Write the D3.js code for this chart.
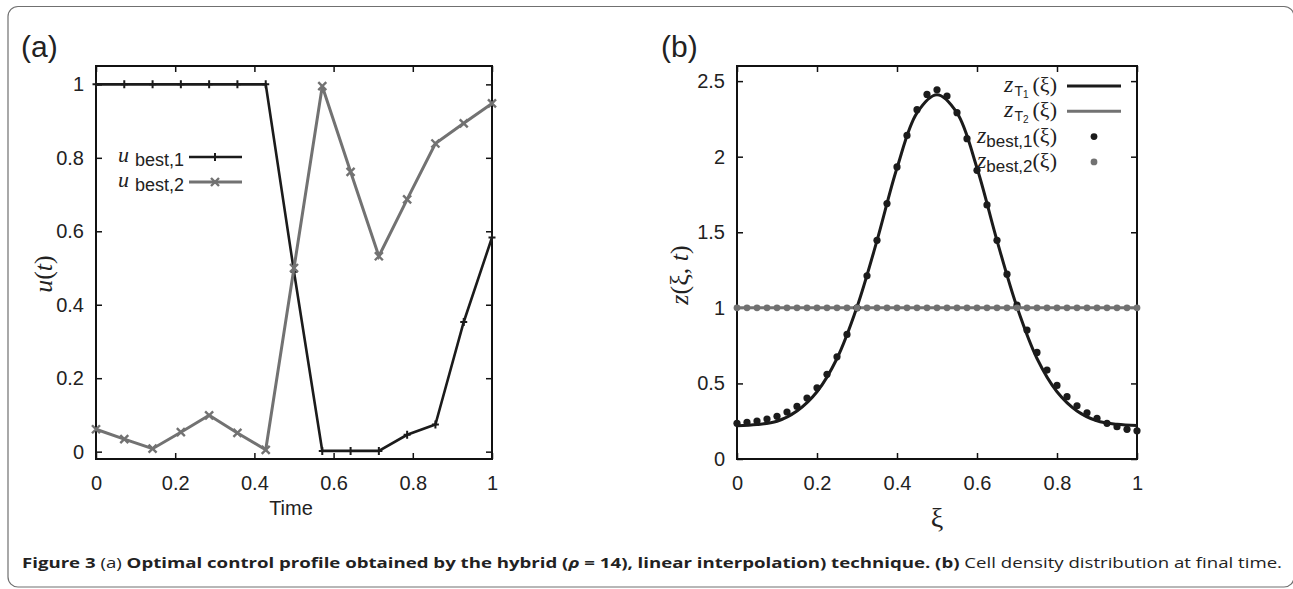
<!DOCTYPE html>
<html>
<head>
<meta charset="utf-8">
<title>Figure 3</title>
<script src="https://d3js.org/d3.v7.min.js"></script>
<style>
    body { margin: 0; background: #fff; }
    svg { display: block; }
    .sans { font-family: 'Liberation Sans', Arial, Helvetica, sans-serif; fill: #222; }
    .serif { font-family: 'Liberation Serif', 'DejaVu Serif', serif; fill: #222; }
</style>
</head>
<body>
<div id="chart"></div>
<script>
    // panel (a): control profiles
    const time = [0, 0.0714, 0.1429, 0.2143, 0.2857, 0.3571, 0.4286, 0.5, 0.5714, 0.6429, 0.7143, 0.7857, 0.8571, 0.9286, 1];
    const uBest1 = [1, 1, 1, 1, 1, 1, 1, 0.49, 0.002, 0.002, 0.002, 0.046, 0.074, 0.353, 0.583];
    const uBest2 = [0.061, 0.034, 0.008, 0.053, 0.099, 0.051, 0.005, 0.50, 0.995, 0.762, 0.532, 0.687, 0.839, 0.894, 0.948];
    const xTicksA = [0, 0.2, 0.4, 0.6, 0.8, 1];
    const yTicksA = [0, 0.2, 0.4, 0.6, 0.8, 1];

    // panel (b): cell density
    const xiDots = [0, 0.025, 0.05, 0.075, 0.1, 0.125, 0.15, 0.175, 0.2, 0.225, 0.25, 0.275, 0.3, 0.325, 0.35, 0.375, 0.4, 0.425, 0.45, 0.475,
        0.5, 0.525, 0.55, 0.575, 0.6, 0.625, 0.65, 0.675, 0.7, 0.725, 0.75, 0.775, 0.8, 0.825, 0.85, 0.875, 0.9, 0.925, 0.95, 0.975, 1];
    const zBest1 = [0.236, 0.242, 0.251, 0.264, 0.282, 0.311, 0.348, 0.403, 0.471, 0.560, 0.676, 0.824, 1.0, 1.212, 1.447, 1.690, 1.932, 2.141, 2.311, 2.412,
        2.443, 2.401, 2.291, 2.119, 1.910, 1.681, 1.447, 1.223, 1.018, 0.853, 0.705, 0.588, 0.487, 0.412, 0.352, 0.306, 0.269, 0.236, 0.214, 0.196, 0.187];
    const zBest2 = [1, 1, 1, 1, 1, 1, 1, 1, 1, 1, 1, 1, 1, 1, 1, 1, 1, 1, 1, 1,
        1, 1, 1, 1, 1, 1, 1, 1, 1, 1, 1, 1, 1, 1, 1, 1, 1, 1, 1, 1, 1];
    const xiCurve = [0, 0.05, 0.1, 0.15, 0.2, 0.25, 0.3, 0.35, 0.4, 0.45, 0.5, 0.55, 0.6, 0.65, 0.7, 0.75, 0.8, 0.85, 0.9, 0.95, 1];
    const zT1 = [0.220, 0.228, 0.250, 0.318, 0.445, 0.665, 1.005, 1.445, 1.925, 2.290, 2.410, 2.290, 1.925, 1.445, 1.005, 0.665, 0.445, 0.318, 0.252, 0.230, 0.222];
    const xiT2 = [0, 1];
    const zT2 = [1, 1];
    const xTicksB = [0, 0.2, 0.4, 0.6, 0.8, 1];
    const yTicksB = [0, 0.5, 1, 1.5, 2, 2.5];

    const black = "#1b1b1b", grey = "#727272";
    const width = 1293, height = 589;
    const fmt = d => String(+d.toFixed(1));

    const svg = d3.select('#chart').append('svg')
        .attr('width', width).attr('height', height);

    svg.append('rect')
        .attr('x', 8).attr('y', 6.5).attr('width', 1286).attr('height', 580.5)
        .attr('rx', 10).attr('fill', 'none').attr('stroke', '#707070').attr('stroke-width', 1.2);

    function frame(x, y, xTicks, yTicks) {
        const [x0, x1] = x.range(), [y0, y1] = y.range();
        const g = svg.append('g');
        g.append('g').attr('transform', `translate(0,${y0})`)
            .call(d3.axisBottom(x).tickValues(xTicks).tickSize(-6).tickPadding(17).tickFormat(fmt));
        g.append('g').attr('transform', `translate(0,${y1})`)
            .call(d3.axisTop(x).tickValues(xTicks).tickSize(-6).tickFormat(''));
        g.append('g').attr('transform', `translate(${x0},0)`)
            .call(d3.axisLeft(y).tickValues(yTicks).tickSize(-6).tickPadding(12).tickFormat(fmt));
        g.append('g').attr('transform', `translate(${x1},0)`)
            .call(d3.axisRight(y).tickValues(yTicks).tickSize(-6).tickFormat(''));
        g.selectAll('.domain').remove();
        g.selectAll('.tick line').attr('stroke', '#111').attr('stroke-width', 1.5);
        g.selectAll('.tick text')
            .attr('font-family', "'Liberation Sans', Arial, Helvetica, sans-serif")
            .attr('font-size', 20).attr('fill', '#222');
        g.append('rect').attr('x', x0).attr('y', y1).attr('width', x1 - x0).attr('height', y0 - y1)
            .attr('fill', 'none').attr('stroke', '#111').attr('stroke-width', 2);
        return g;
    }

    // ---------- panel (a)
    const xA = d3.scaleLinear([0, 1], [96, 492]);
    const yA = d3.scaleLinear([-0.02, 1.05], [459, 66]);
    frame(xA, yA, xTicksA, yTicksA);

    const lineA = d3.line().x(d => xA(d[0])).y(d => yA(d[1]));
    const plus = 'M-3.5,0H3.5M0,-4V4';
    const cross = 'M-4,-4L4,4M-4,4L4,-4';

    const s1 = time.map((t, i) => [t, uBest1[i]]);
    const s2 = time.map((t, i) => [t, uBest2[i]]);

    svg.append('path').datum(s1).attr('d', lineA)
        .attr('fill', 'none').attr('stroke', black).attr('stroke-width', 2.6);
    svg.append('g').selectAll('path').data(s1).join('path')
        .attr('transform', d => `translate(${xA(d[0])},${yA(d[1])})`)
        .attr('d', plus).attr('stroke', black).attr('stroke-width', 2);
    svg.append('path').datum(s2).attr('d', lineA)
        .attr('fill', 'none').attr('stroke', grey).attr('stroke-width', 3);
    svg.append('g').selectAll('path').data(s2).join('path')
        .attr('transform', d => `translate(${xA(d[0])},${yA(d[1])})`)
        .attr('d', cross).attr('stroke', grey).attr('stroke-width', 2.4);

    // legend (a)
    [[1, black, plus, 2.6, 2], [2, grey, cross, 3, 2.4]].forEach(([k, c, m, lw, mw], i) => {
        const y = 157 + i * 25;
        svg.append('text').attr('class', 'serif').attr('x', 118).attr('y', y + 5)
            .attr('font-style', 'italic').attr('font-size', 22).text('u');
        svg.append('text').attr('class', 'sans').attr('x', 135).attr('y', y + 9)
            .attr('font-size', 18).text('best,' + k);
        svg.append('line').attr('x1', 189).attr('x2', 242).attr('y1', y).attr('y2', y)
            .attr('stroke', c).attr('stroke-width', lw);
        svg.append('path').attr('transform', `translate(215,${y})`).attr('d', m)
            .attr('stroke', c).attr('stroke-width', mw);
    });

    svg.append('text').attr('class', 'sans').attr('x', 291).attr('y', 515)
        .attr('text-anchor', 'middle').attr('font-size', 20).text('Time');

    const ya = svg.append('text').attr('transform', 'translate(43,274) rotate(-90)')
        .attr('text-anchor', 'middle').attr('dy', '0.35em').attr('class', 'serif').attr('font-size', 26);
    ya.append('tspan').attr('font-style', 'italic').text('u');
    ya.append('tspan').text('(');
    ya.append('tspan').attr('font-style', 'italic').text('t');
    ya.append('tspan').text(')');

    svg.append('text').attr('class', 'sans').attr('x', 21).attr('y', 57)
        .attr('font-size', 30).text('(a)');

    // ---------- panel (b)
    const xB = d3.scaleLinear([0, 1], [737, 1137]);
    const yB = d3.scaleLinear([0, 2.6], [459, 66]);
    frame(xB, yB, xTicksB, yTicksB);

    const curve = d3.line().x(d => xB(d[0])).y(d => yB(d[1])).curve(d3.curveCatmullRom.alpha(0.5));
    const lineB = d3.line().x(d => xB(d[0])).y(d => yB(d[1]));

    svg.append('path').datum(xiCurve.map((x, i) => [x, zT1[i]])).attr('d', curve)
        .attr('fill', 'none').attr('stroke', black).attr('stroke-width', 3);
    svg.append('path').datum(xiT2.map((x, i) => [x, zT2[i]])).attr('d', lineB)
        .attr('fill', 'none').attr('stroke', grey).attr('stroke-width', 3);
    svg.append('g').selectAll('circle').data(xiDots.map((x, i) => [x, zBest1[i]])).join('circle')
        .attr('cx', d => xB(d[0])).attr('cy', d => yB(d[1])).attr('r', 3.6).attr('fill', black);
    svg.append('g').selectAll('circle').data(xiDots.map((x, i) => [x, zBest2[i]])).join('circle')
        .attr('cx', d => xB(d[0])).attr('cy', d => yB(d[1])).attr('r', 3.4).attr('fill', grey);

    // legend (b)
    const legB = [
        { sub: 'T', subsub: '1', color: black, kind: 'line' },
        { sub: 'T', subsub: '2', color: grey, kind: 'line' },
        { sub: 'best,1', subsub: null, color: black, kind: 'dot' },
        { sub: 'best,2', subsub: null, color: grey, kind: 'dot' }
    ];
    legB.forEach((d, i) => {
        const y = 86 + i * 25.3;
        const t = svg.append('text').attr('x', 1057).attr('y', y + 6).attr('text-anchor', 'end');
        t.append('tspan').attr('class', 'serif').attr('font-style', 'italic').attr('font-size', 24).text('z');
        if (d.subsub) {
            t.append('tspan').attr('class', 'sans').attr('font-size', 14).attr('dx', 1).attr('dy', 4).text(d.sub);
            t.append('tspan').attr('class', 'sans').attr('font-size', 10).attr('dy', 2).text(d.subsub);
            t.append('tspan').attr('class', 'serif').attr('font-size', 22).attr('dx', 4).attr('dy', -6).text('(ξ)');
        } else {
            t.append('tspan').attr('class', 'sans').attr('font-size', 17).attr('dy', 4).text(d.sub);
            t.append('tspan').attr('class', 'serif').attr('font-size', 22).attr('dy', -4).text('(ξ)');
        }
        if (d.kind === 'line') {
            svg.append('line').attr('x1', 1067).attr('x2', 1121).attr('y1', y).attr('y2', y)
                .attr('stroke', d.color).attr('stroke-width', 3);
        } else {
            svg.append('circle').attr('cx', 1094).attr('cy', y).attr('r', 3.4).attr('fill', d.color);
        }
    });

    svg.append('text').attr('class', 'serif').attr('x', 937).attr('y', 527)
        .attr('text-anchor', 'middle').attr('font-size', 28).text('ξ');

    const yb = svg.append('text').attr('transform', 'translate(679,275) rotate(-90)')
        .attr('text-anchor', 'middle').attr('dy', '0.35em').attr('class', 'serif').attr('font-size', 26);
    yb.append('tspan').attr('font-style', 'italic').text('z');
    yb.append('tspan').text('(ξ, ');
    yb.append('tspan').attr('font-style', 'italic').text('t');
    yb.append('tspan').text(')');

    svg.append('text').attr('class', 'sans').attr('x', 661).attr('y', 57)
        .attr('font-size', 30).text('(b)');

    // caption
    const cap = svg.append('text').attr('x', 22).attr('y', 568)
        .attr('font-family', "'Open Sans', 'Noto Sans', sans-serif").attr('font-size', 15).attr('fill', '#222')
        .attr('textLength', 1260).attr('lengthAdjust', 'spacingAndGlyphs');
    cap.append('tspan').attr('font-weight', 'bold').text('Figure 3 ');
    cap.append('tspan').text('(a) ');
    cap.append('tspan').attr('font-weight', 'bold').text('Optimal control profile obtained by the hybrid (');
    cap.append('tspan').attr('font-weight', 'bold').attr('font-style', 'italic').text('ρ');
    cap.append('tspan').attr('font-weight', 'bold').text(' = 14), linear interpolation) technique. (b)');
    cap.append('tspan').text(' Cell density distribution at final time.');
</script>
</body>
</html>
